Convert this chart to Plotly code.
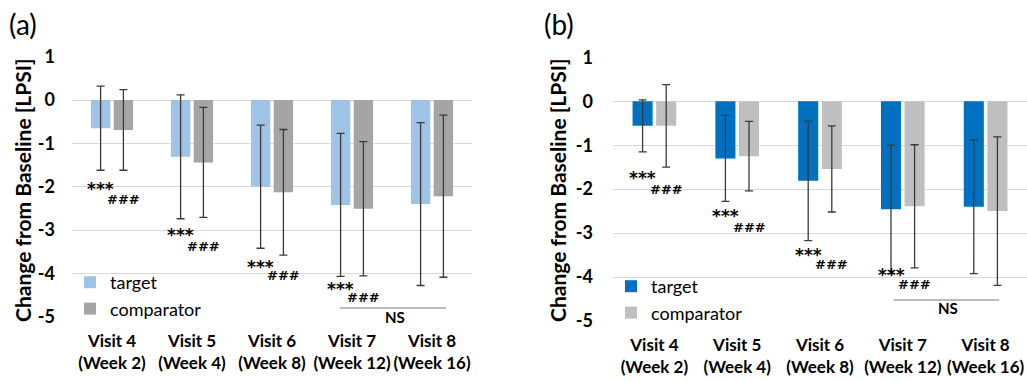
import plotly.graph_objects as go

categories = ["Visit 4<br>(Week 2)", "Visit 5<br>(Week 4)", "Visit 6<br>(Week 8)",
              "Visit 7<br>(Week 12)", "Visit 8<br>(Week 16)"]
y_ticks = [1, 0, -1, -2, -3, -4, -5]

# Panel (a)
a_target = [-0.65, -1.31, -2.00, -2.42, -2.40]
a_target_sd = [0.97, 1.43, 1.42, 1.65, 1.88]
a_comp = [-0.69, -1.44, -2.13, -2.51, -2.22]
a_comp_sd = [0.93, 1.27, 1.45, 1.55, 1.87]
a_star_y = [-1.95, -3.02, -3.75, -4.27]
a_hash_y = [-2.30, -3.38, -4.04, -4.56]

# Panel (b)
b_target = [-0.56, -1.30, -1.81, -2.46, -2.40]
b_target_sd = [0.59, 0.98, 1.36, 1.46, 1.52]
b_comp = [-0.56, -1.25, -1.54, -2.39, -2.50]
b_comp_sd = [0.94, 0.79, 0.98, 1.40, 1.69]
b_star_y = [-1.66, -2.53, -3.40, -3.86]
b_hash_y = [-2.01, -2.88, -3.71, -4.18]

FONT = "Lato"
ERR = "#3a3a3a"
W, H = 1027, 381

fig = go.Figure()

def add_bars(vals, sd, color, name, xa, ya, legend):
    fig.add_trace(go.Bar(
        x=categories, y=vals, name=name, marker=dict(color=color, line=dict(width=0)),
        error_y=dict(type="data", array=sd, visible=True, color=ERR, thickness=1.3, width=4),
        xaxis=xa, yaxis=ya, legend=legend))

add_bars(a_target, a_target_sd, "#9DC3E6", "target", "x", "y", "legend")
add_bars(a_comp, a_comp_sd, "#A5A5A5", "comparator", "x", "y", "legend")
add_bars(b_target, b_target_sd, "#0070C0", "target", "x2", "y2", "legend2")
add_bars(b_comp, b_comp_sd, "#BFBFBF", "comparator", "x2", "y2", "legend2")

annotations = []
shapes = []

def add_sig(stars, hashes, xref, yref):
    for i, (s, h) in enumerate(zip(stars, hashes)):
        annotations.append(dict(x=i - 0.1425, y=s, xref=xref, yref=yref, text="<b>***</b>",
                                showarrow=False, yshift=-4,
                                font=dict(family="DejaVu Sans", size=17, color="black")))
        annotations.append(dict(x=i + 0.1425, y=h, xref=xref, yref=yref, text="<b>###</b>",
                                showarrow=False,
                                font=dict(family="DejaVu Sans", size=13, color="black")))

add_sig(a_star_y, a_hash_y, "x", "y")
add_sig(b_star_y, b_hash_y, "x2", "y2")

# NS brackets
shapes.append(dict(type="line", xref="x", yref="y", x0=2.85, x1=4.175, y0=-4.8, y1=-4.8,
                   line=dict(color="#A6A6A6", width=1.5)))
annotations.append(dict(x=3.54, y=-5.0, xref="x", yref="y", text="<b>NS</b>", showarrow=False,
                        font=dict(family=FONT, size=15, color="black")))
shapes.append(dict(type="line", xref="x2", yref="y2", x0=2.886, x1=4.163, y0=-4.52, y1=-4.52,
                   line=dict(color="#A6A6A6", width=1.5)))
annotations.append(dict(x=3.55, y=-4.71, xref="x2", yref="y2", text="<b>NS</b>", showarrow=False,
                        font=dict(family=FONT, size=15, color="black")))

# axis titles & panel labels
for xp in (22, 557):
    annotations.append(dict(x=xp / W, y=1 - 190 / H, xref="paper", yref="paper",
                            xanchor="center", yanchor="middle",
                            text="<b>Change from Baseline [LPSI]</b>", textangle=-90, showarrow=False,
                            font=dict(family=FONT, size=21, color="black")))
annotations.append(dict(x=23 / W, y=1 - 24 / H, xref="paper", yref="paper", text="(a)", showarrow=False,
                        xanchor="center", yanchor="middle",
                        font=dict(family=FONT, size=28, color="black")))
annotations.append(dict(x=559 / W, y=1 - 24 / H, xref="paper", yref="paper", text="(b)", showarrow=False,
                        xanchor="center", yanchor="middle",
                        font=dict(family=FONT, size=28, color="black")))

tickfont = dict(family=FONT, size=17, color="black", weight="bold")
common_y = dict(range=[-5, 1], tickvals=y_ticks, ticktext=[str(v) for v in y_ticks],
                showgrid=True, gridcolor="#D9D9D9", gridwidth=1, zeroline=False,
                showline=False, tickfont=dict(family=FONT, size=18, color="black", weight="bold"),
                automargin=False, fixedrange=True)
common_x = dict(showgrid=False, zeroline=False, showline=False, tickfont=tickfont,
                automargin=False, ticklabelstandoff=12)

fig.update_layout(
    width=W, height=H, margin=dict(l=0, r=0, t=0, b=0),
    paper_bgcolor="white", plot_bgcolor="white",
    barmode="group", bargap=0.43, bargroupgap=0.15,
    font=dict(family=FONT, color="black"),
    xaxis=dict(domain=[72 / W, 472 / W], anchor="y", **common_x),
    yaxis=dict(domain=[1 - 316.7 / H, 1 - 56.7 / H], anchor="x", ticklabelstandoff=16, **common_y),
    xaxis2=dict(domain=[613 / W, 1.0], anchor="y2", **common_x),
    yaxis2=dict(domain=[1 - 321 / H, 1 - 57.3 / H], anchor="x2", ticklabelstandoff=19, **common_y),
    legend=dict(x=70 / W, y=1 - 264 / H, xanchor="left", yanchor="top", bgcolor="rgba(0,0,0,0)",
                font=dict(family=FONT, size=18, color="black"), tracegroupgap=0),
    legend2=dict(x=611 / W, y=1 - 268 / H, xanchor="left", yanchor="top", bgcolor="rgba(0,0,0,0)",
                 font=dict(family=FONT, size=18, color="black"), tracegroupgap=0),
    annotations=annotations, shapes=shapes,
)

fig.write_html("out.html", config={"displayModeBar": False},
               post_script="document.body.style.margin='0';document.body.style.overflow='hidden';")
